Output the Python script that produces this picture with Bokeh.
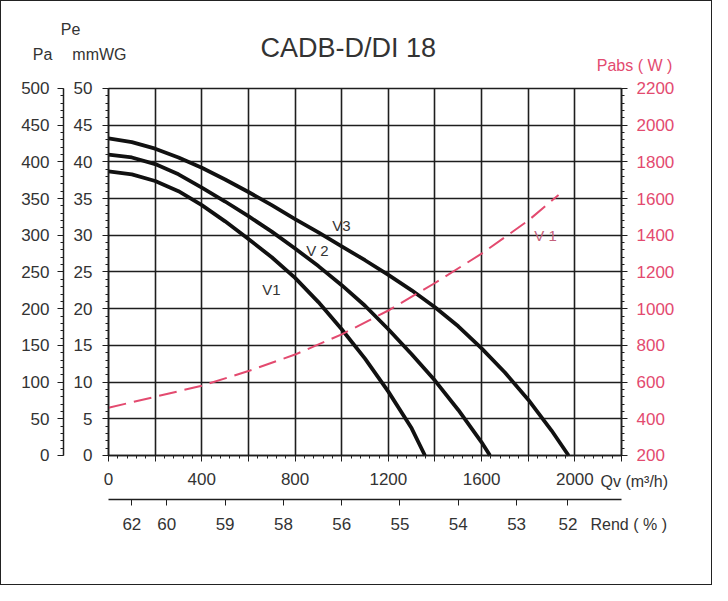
from bokeh.core.properties import value
from bokeh.embed import file_html
from bokeh.models import (ColumnDataSource, FixedTicker, Grid, Label, LinearAxis,
                          Range1d, SingleIntervalTicker)
from bokeh.plotting import figure
from bokeh.resources import INLINE

FONT = "Liberation Sans"
INK = "#1e1e1e"
TEXT = "#333333"
PINK = "#e34a6f"

# pressure curves, Qv (m3/h) -> Pe (mmWG)
qv_v1 = [0, 100, 200, 300, 400, 500, 600, 700, 800, 900, 1000, 1100, 1200, 1300, 1357]
pe_v1 = [38.7, 38.3, 37.4, 36.0, 34.1, 31.9, 29.5, 27.0, 24.2, 20.9, 17.2, 13.2, 8.7, 3.7, 0]

qv_v2 = [0, 100, 200, 300, 400, 500, 600, 700, 800, 900, 1000, 1100, 1200, 1300, 1400, 1500, 1600, 1636]
pe_v2 = [41.0, 40.6, 39.7, 38.3, 36.5, 34.6, 32.6, 30.5, 28.2, 25.8, 23.2, 20.4, 17.2, 13.8, 10.2, 6.2, 1.8, 0]

qv_v3 = [0, 100, 200, 300, 400, 500, 600, 700, 800, 900, 1000, 1100, 1200, 1300, 1400, 1500, 1600, 1700, 1800, 1900, 1973]
pe_v3 = [43.2, 42.7, 41.8, 40.6, 39.2, 37.6, 35.9, 34.1, 32.2, 30.4, 28.5, 26.6, 24.6, 22.5, 20.2, 17.6, 14.6, 11.3, 7.6, 3.4, 0]

# absorbed power, V1
qv_pabs = [0, 200, 400, 600, 800, 1000, 1200, 1400, 1600, 1800, 1930]
pabs_w = [460, 520, 580, 660, 750, 860, 990, 1140, 1300, 1480, 1620]

# efficiency scale under the flow axis
rend_qv = [100, 250, 500, 750, 1000, 1250, 1500, 1750, 1970]
rend_labels = ["62", "60", "59", "58", "56", "55", "54", "53", "52"]

curve_names = ["V1", "V 2", "V3"]
curve_label_qv = [699, 896, 999]
curve_label_pe = [22.6, 27.9, 31.3]

# the frame fills the canvas; the chart box is Qv 0..2200 x Pe 0..50 inside it
X_VIEW = (-459, 2594.5)
Y_VIEW = (-17.85, 61.85)


def style_axis(axis, color=TEXT):
    axis.axis_line_color = INK
    axis.axis_line_width = 1.5
    axis.major_tick_line_color = INK
    axis.minor_tick_line_color = INK
    axis.major_tick_in = 0
    axis.major_tick_out = 6
    axis.minor_tick_in = 0
    axis.minor_tick_out = 3
    axis.major_label_text_font = FONT
    axis.major_label_text_font_size = "17px"
    axis.major_label_text_color = color


p = figure(
    width=712,
    height=585,
    x_range=Range1d(*X_VIEW),
    y_range=Range1d(*Y_VIEW),
    output_backend="svg",
    toolbar_location=None,
    min_border=0,
    styles={"border": "1px solid #222"},
)
p.outline_line_color = None
p.extra_y_ranges = {
    "pa": Range1d(Y_VIEW[0] * 10, Y_VIEW[1] * 10),
    "pabs": Range1d(200 + Y_VIEW[0] * 40, 200 + Y_VIEW[1] * 40),
}

# Qv axis
p.xaxis.ticker = SingleIntervalTicker(interval=200, num_minor_ticks=5)
p.xaxis.major_label_overrides = {v: "" for v in range(200, 2201, 400)}
p.xaxis.major_label_standoff = 12
p.xaxis.fixed_location = 0
p.xaxis.bounds = (0, 2200)
style_axis(p.xaxis[0])

# Pe axis, mmWG
p.yaxis.ticker = SingleIntervalTicker(interval=5, num_minor_ticks=5)
p.yaxis.major_label_standoff = 10
p.yaxis.fixed_location = 0
p.yaxis.bounds = (0, 50)
style_axis(p.yaxis[0])

pa_axis = LinearAxis(y_range_name="pa", ticker=SingleIntervalTicker(interval=50, num_minor_ticks=5),
                     fixed_location=-193, bounds=(0, 500), major_label_standoff=8)
style_axis(pa_axis)
p.add_layout(pa_axis, "left")

pabs_axis = LinearAxis(y_range_name="pabs", ticker=SingleIntervalTicker(interval=200, num_minor_ticks=5),
                       fixed_location=2200, bounds=(200, 2200), major_label_standoff=9)
style_axis(pabs_axis, PINK)
p.add_layout(pabs_axis, "right")

rend_axis = LinearAxis(
    ticker=FixedTicker(ticks=rend_qv, minor_ticks=[]),
    major_label_overrides=dict(zip(rend_qv, rend_labels)),
    fixed_location=-6.0,
    bounds=(0, 2200),
    major_label_standoff=12,
)
style_axis(rend_axis)
p.add_layout(rend_axis, "below")

p.xgrid.ticker = SingleIntervalTicker(interval=200)
p.ygrid.ticker = SingleIntervalTicker(interval=5)
p.xgrid.bounds = (0, 2200)
p.ygrid.bounds = (0, 50)
for g in (p.xgrid, p.ygrid):
    g.grid_line_color = INK
    g.grid_line_width = 1.6
if "cross_bounds" in Grid.properties():
    p.xgrid.cross_bounds = (0, 50)
    p.ygrid.cross_bounds = (0, 2200)
else:
    p.xgrid.visible = False
    p.ygrid.visible = False
    gx = list(range(0, 2201, 200))
    gy = list(range(0, 51, 5))
    p.segment(x0=gx, y0=[0] * len(gx), x1=gx, y1=[50] * len(gx), color=INK, line_width=1.6)
    p.segment(x0=[0] * len(gy), y0=gy, x1=[2200] * len(gy), y1=gy, color=INK, line_width=1.6)

for qv, pe in [(qv_v1, pe_v1), (qv_v2, pe_v2), (qv_v3, pe_v3)]:
    p.line(qv, pe, color="#111111", line_width=3.8)

p.line(qv_pabs, pabs_w, y_range_name="pabs", color=PINK, line_width=2, line_dash="18 8")

labels = ColumnDataSource(dict(x=curve_label_qv, y=curve_label_pe, text=curve_names))
p.text(x="x", y="y", text="text", source=labels, text_font=value(FONT),
       text_font_size="15px", text_align="center", text_baseline="middle", text_color=TEXT)
p.add_layout(Label(x=1874, y=30.0, text="V 1", text_font=FONT, text_font_size="15px",
                   text_align="center", text_baseline="middle", text_color="#c4607a"))

p.add_layout(Label(x=652, y=55.45, text="CADB-D/DI 18", text_font=FONT, text_font_size="27px",
                   text_align="left", text_baseline="middle", text_color=TEXT))

# axis captions placed around the chart box
captions = [
    ("Pe", -163, 58.0, "center", TEXT),
    ("Pa", -283, 54.6, "center", TEXT),
    ("mmWG", -39, 54.6, "center", TEXT),
    ("Pabs ( W )", 2256, 53.1, "center", PINK),
    ("Qv (m\u00b3/h)", 2110, -3.55, "left", TEXT),
    ("Rend ( % )", 2067, -9.4, "left", TEXT),
]
for text, x, y, align, color in captions:
    p.add_layout(Label(x=x, y=y, text=text, text_font=FONT, text_font_size="16px",
                       text_align=align, text_baseline="middle", text_color=color))

open("out.html", "w").write(file_html(p, INLINE))
